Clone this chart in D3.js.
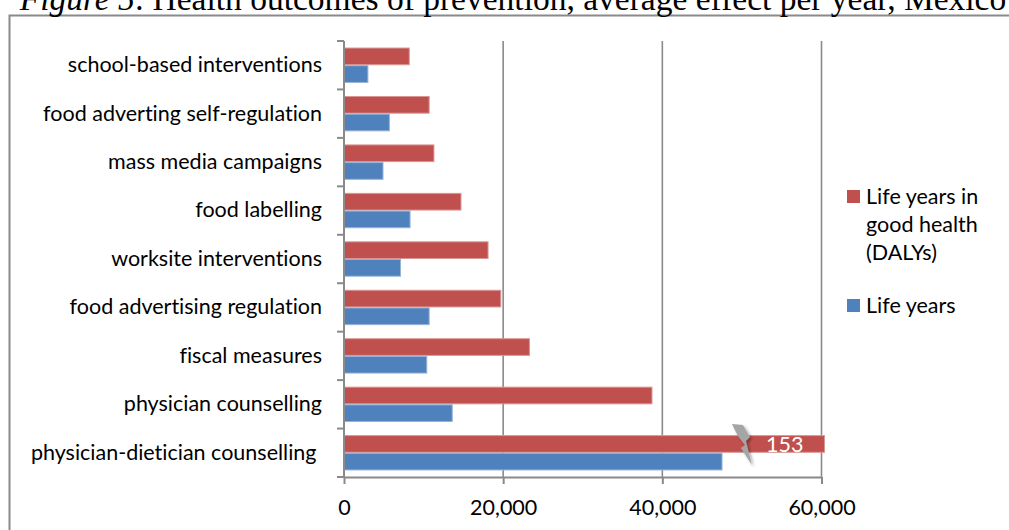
<!DOCTYPE html>
<html>
<head>
<meta charset="utf-8">
<script src="https://cdn.jsdelivr.net/npm/d3@7"></script>
<style>
  html, body { margin: 0; padding: 0; background: #fff; }
  svg { display: block; }
  svg text { font-variant-ligatures: none; white-space: pre; }
</style>
</head>
<body>
<svg id="chart" width="1009" height="530"></svg>
<script>
// Interventions, top to bottom
const categories = [
  "school-based interventions",
  "food adverting self-regulation",
  "mass media campaigns",
  "food labelling",
  "worksite interventions",
  "food advertising regulation",
  "fiscal measures",
  "physician counselling",
  "physician-dietician counselling "
];
// Life years in good health (DALYs) per year
const dalys = [8200, 10700, 11300, 14700, 18100, 19700, 23300, 38700, 153000];
// Life years per year
const lifeYears = [3000, 5700, 4900, 8300, 7100, 10700, 10400, 13600, 47500];

const xTicks = [0, 20000, 40000, 60000];
const seriesNames = ["Life years in good health (DALYs)", "Life years"];
const seriesColors = ["#C0504D", "#4F81BD"];
const seriesEdge = ["#D99694", "#95B3D7"];
const breakValue = 50000; // where the axis break marker sits on the overflowing bar

const svg = d3.select("#chart");
const W = 1009, H = 530;
const plot = { left: 344, right: 821.5, top: 41, bottom: 477 };
const labelFont = "Lato, 'Open Sans', sans-serif";
const labelSize = 21.5;
const axisColor = "#8a8a8a";

// chart frame
svg.append("rect")
  .attr("x", 9.5).attr("y", 15.5)
  .attr("width", 1003).attr("height", 530)
  .attr("fill", "none").attr("stroke", "#8a8a8a").attr("stroke-width", 2);

// title (partly above the frame)
const title = svg.append("text")
  .attr("x", 513).attr("y", 10)
  .attr("text-anchor", "middle")
  .attr("font-family", "'Liberation Serif', 'Times New Roman', serif")
  .attr("font-size", 33.5)
  .attr("fill", "#000");
title.append("tspan").attr("font-style", "italic").text("Figure 5");
title.append("tspan").text(": Health outcomes of prevention, average effect per year, Mexico");

const x = d3.scaleLinear().domain([0, 60000]).range([plot.left, plot.right]);
const y = d3.scaleBand().domain(categories).range([plot.top, plot.bottom])
  .paddingInner(0.27).paddingOuter(0.135);
const ySub = d3.scaleBand().domain([0, 1]).range([0, y.bandwidth()]);

// vertical gridlines
svg.append("g").selectAll("line").data(xTicks.slice(1)).join("line")
  .attr("x1", d => x(d)).attr("x2", d => x(d))
  .attr("y1", plot.top).attr("y2", plot.bottom)
  .attr("stroke", axisColor).attr("stroke-width", 1.6);

// bars
const rows = categories.map((c, i) => ({ c, vals: [dalys[i], lifeYears[i]] }));
const maxX = x.domain()[1];
const barEnd = v => v > maxX ? x(maxX) + 3 : x(v);

const gRows = svg.append("g").selectAll("g").data(rows).join("g")
  .attr("transform", d => `translate(0,${y(d.c)})`);

gRows.selectAll("rect").data(d => d.vals.map((v, s) => ({ v, s }))).join("rect")
  .attr("x", x(0))
  .attr("y", d => ySub(d.s) + 0.5)
  .attr("width", d => barEnd(d.v) - x(0))
  .attr("height", ySub.bandwidth() - 1)
  .attr("fill", d => seriesColors[d.s])
  .attr("stroke", d => seriesEdge[d.s])
  .attr("stroke-width", 1);

// break marker + value label on bars that run past the axis
const defs = svg.append("defs");
const sh = defs.append("filter").attr("id", "boltShadow")
  .attr("x", "-50%").attr("y", "-50%").attr("width", "200%").attr("height", "200%");
sh.append("feDropShadow").attr("dx", 2).attr("dy", 2).attr("stdDeviation", 1.5)
  .attr("flood-color", "#000").attr("flood-opacity", 0.35);

const bolt = [[-10, -20], [1, -19], [8, -7], [4, -3], [10, 21], [-1, 4], [3, 1], [-4, -8]];
rows.forEach(r => {
  r.vals.forEach((v, s) => {
    if (v <= maxX) return;
    const cy = y(r.c) + ySub(s) + ySub.bandwidth() / 2;
    const cx = x(breakValue);
    svg.append("path")
      .attr("d", d3.line()(bolt.map(([dx, dy]) => [cx + dx, cy + dy])) + "Z")
      .attr("fill", "#a5a5a5")
      .attr("filter", "url(#boltShadow)");
    svg.append("text")
      .attr("x", (cx + x(maxX)) / 2 + 3).attr("y", cy)
      .attr("dy", "0.36em")
      .attr("text-anchor", "middle")
      .attr("font-family", labelFont).attr("font-size", labelSize)
      .attr("fill", "#fff")
      .text(d3.format(",")(Math.round(v / 1000)));
  });
});

// category axis
svg.append("line")
  .attr("x1", plot.left).attr("x2", plot.left)
  .attr("y1", plot.top).attr("y2", plot.bottom)
  .attr("stroke", axisColor).attr("stroke-width", 2);
const boundaries = categories.map(c => y(c) - y.step() * y.paddingInner() / 2)
  .concat([plot.bottom]);
svg.append("g").selectAll("line").data(boundaries).join("line")
  .attr("x1", plot.left - 7).attr("x2", plot.left)
  .attr("y1", d => d).attr("y2", d => d)
  .attr("stroke", axisColor).attr("stroke-width", 2);

const yAxis = svg.append("g")
  .attr("transform", `translate(${plot.left - 22},0)`)
  .call(d3.axisLeft(y).tickSize(0).tickPadding(0));
yAxis.select(".domain").remove();
yAxis.selectAll("text")
  .attr("font-family", labelFont).attr("font-size", labelSize).attr("fill", "#000");

// value axis
const xAxis = svg.append("g")
  .attr("transform", `translate(0,${plot.bottom})`)
  .call(d3.axisBottom(x).tickValues(xTicks).tickFormat(d3.format(",")).tickSize(7).tickSizeOuter(0).tickPadding(16));
xAxis.select(".domain").attr("stroke", axisColor).attr("stroke-width", 2);
xAxis.selectAll(".tick line").attr("stroke", axisColor).attr("stroke-width", 2);
xAxis.selectAll("text")
  .attr("font-family", labelFont).attr("font-size", labelSize).attr("fill", "#000");

// legend
const legend = svg.append("g");
const legendItems = [
  { lines: ["Life years in", "good health", "(DALYs)"], color: seriesColors[0], top: 190 },
  { lines: ["Life years"], color: seriesColors[1], top: 299 }
];
legendItems.forEach(it => {
  legend.append("rect")
    .attr("x", 847).attr("y", it.top)
    .attr("width", 13).attr("height", 13)
    .attr("fill", it.color);
  const t = legend.append("text")
    .attr("font-family", labelFont).attr("font-size", labelSize).attr("fill", "#000");
  it.lines.forEach((ln, k) => {
    t.append("tspan").attr("x", 866).attr("y", it.top + 14 + k * 28).text(ln);
  });
});
</script>
</body>
</html>
